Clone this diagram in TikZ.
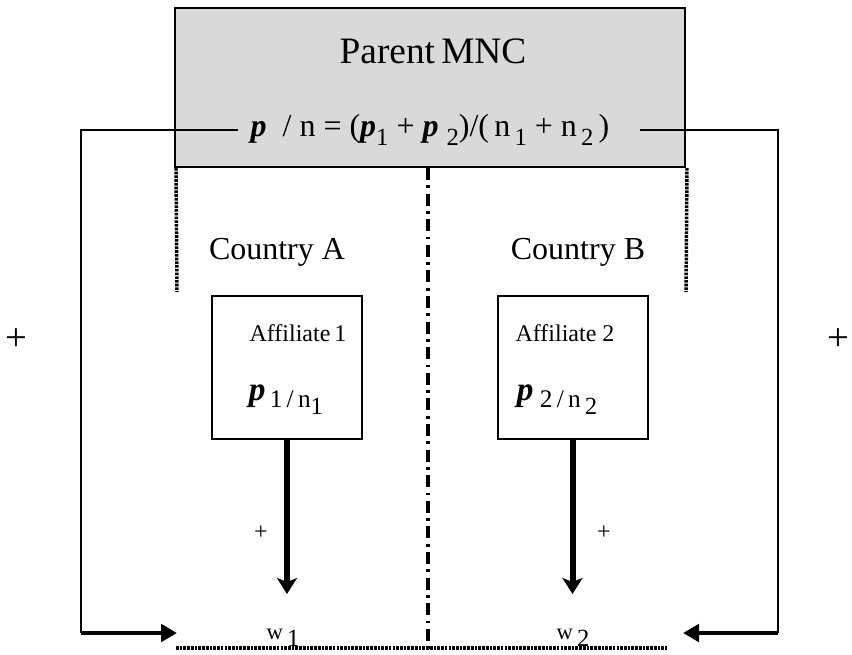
\documentclass[tikz,border=0pt]{standalone}
\usepackage{fontspec}
\setmainfont{Liberation Serif}
\usetikzlibrary{arrows.meta}
\definecolor{boxgray}{RGB}{217, 217, 217}
\newcommand{\lowsub}[1]{\raisebox{-0.3em}{\fontsize{18.5}{20}\selectfont #1}}
\newcommand{\bp}{\textbf{\textit{p}}}

\begin{document}
\begin{tikzpicture}[x = 0.75pt, y = -0.75pt,
	box/.style = {draw, line width = 1.5pt, inner sep = 0pt},
	thinline/.style = {line width = 1.5pt},
	feedarrow/.style = {line width = 3pt, -{Triangle[length = 12pt, width = 13pt]}},
	downarrow/.style = {line width = 4.5pt, -{Stealth[length = 12pt, width = 15pt, inset = 3pt]}},
	border/.style = {line width = 2.6pt, dash pattern = on 2pt off 0.8pt},
	divider/.style = {line width = 2.4pt, dash pattern = on 9pt off 4pt on 2.2pt off 4pt}]
	\useasboundingbox (0, 0) rectangle (852, 654);
	% parent company
	\node[box, fill = boxgray, minimum width = 382.5pt, minimum height = 119.25pt] (parent) at (430, 87.5) {};
	\node[font = \fontsize{28}{32}\selectfont] (mnc) at (433, 51) {Parent\,MNC};
	\node[font = \fontsize{24}{28}\selectfont, inner xsep = 9pt] (ratio) at (430, 130)
		{\bp\ \ / n = (\bp\lowsub{1} + \bp\ \lowsub{2})/(\,n\lowsub{\,1} + n\lowsub{\,2}\,)};
	% countries and affiliates
	\node[font = \fontsize{24}{28}\selectfont] (ca) at (277, 252) {Country A};
	\node[font = \fontsize{24}{28}\selectfont] (cb) at (578, 252) {Country B};
	\node[box, minimum width = 112.5pt, minimum height = 107.25pt] (aff1) at (287, 367.5) {};
	\node[box, minimum width = 112.5pt, minimum height = 107.25pt] (aff2) at (572.5, 367.5) {};
	\node[font = \fontsize{18}{22}\selectfont] (a1) at (298, 333) {Affiliate\,1};
	\node[font = \fontsize{18}{22}\selectfont] (a2) at (565, 333) {Affiliate 2};
	\node[font = \fontsize{25}{28}\selectfont] (p1) at (286, 400)
		{\bp\raisebox{-0.2em}{\fontsize{19}{22}\selectfont\,1\,/\,n\lowsub{1}}};
	\node[font = \fontsize{25}{28}\selectfont] (p2) at (557, 400)
		{\bp\raisebox{-0.2em}{\fontsize{19}{22}\selectfont\ 2\,/\,n\lowsub{\,2}}};
	% wages
	\node[font = \fontsize{17}{20}\selectfont] (w1) at (283, 638) {w\lowsub{\,1}};
	\node[font = \fontsize{17}{20}\selectfont] (w2) at (573, 638) {w\lowsub{\,2}};
	\node[font = \fontsize{18}{22}\selectfont] (plus1) at (261, 533) {+};
	\node[font = \fontsize{18}{22}\selectfont] (plus2) at (604, 533) {+};
	\node[font = \fontsize{29}{32}\selectfont] (plusl) at (16, 340) {+};
	\node[font = \fontsize{29}{32}\selectfont] (plusr) at (838, 340) {+};
	% corners of the feedback lines
	\coordinate (lcorner) at (81, 633);
	\coordinate (rcorner) at (778, 633);
	\coordinate (lend) at (177, 633);
	\coordinate (rend) at (683, 633);
	\draw[thinline] (ratio.west) -| (lcorner);
	\draw[thinline] (ratio.east) ++(18, 0) -| (rcorner);
	\draw[feedarrow] (lcorner) -- (lend);
	\draw[feedarrow] (rcorner) -- (rend);
	\draw[downarrow] (aff1.south) -- ++(0, 154);
	\draw[downarrow] (aff2.south) -- ++(0, 154);
	% borders
	\draw[border] (parent.south west) ++(2, 0) -- (177, 292);
	\draw[border] (parent.south east) ++(1, 0) -- (686, 292);
	\draw[border] (176, 648) -- (667, 648);
	\draw[divider] (parent.south -| 428, 0) -- (428, 650);
\end{tikzpicture}
\end{document}
